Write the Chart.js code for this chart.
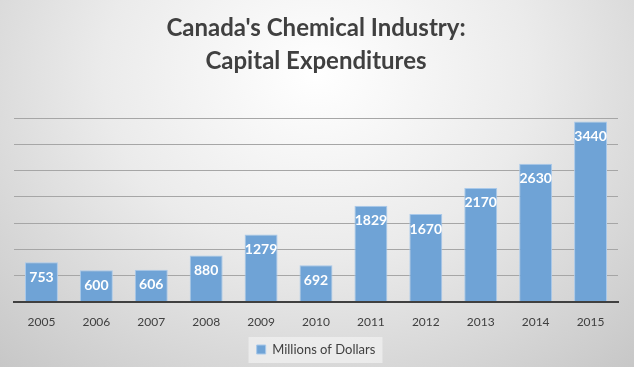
<!DOCTYPE html>
<html>
<head>
<meta charset="utf-8">
<script src="https://cdn.jsdelivr.net/npm/chart.js@4"></script>
<style>
  html, body { margin: 0; padding: 0; }
  body {
    width: 634px; height: 367px; overflow: hidden;
    background: radial-gradient(ellipse 75% 110% at 50% 20%, #ffffff 0%, #ebebeb 45%, #c6c6c6 100%);
  }
  canvas { display: block; }
</style>
</head>
<body>
<canvas id="capex" width="634" height="367"></canvas>
<script>
const years = ['2005', '2006', '2007', '2008', '2009', '2010', '2011', '2012', '2013', '2014', '2015'];
const spending = [753, 600, 606, 880, 1279, 692, 1829, 1670, 2170, 2630, 3440];
const seriesName = 'Millions of Dollars';
const titleLines = ["Canada's Chemical Industry:", 'Capital Expenditures'];

// white value labels just inside the top of each bar
const barLabels = {
    id: 'barLabels',
    afterDatasetsDraw(chart) {
        const c = chart.ctx;
        const meta = chart.getDatasetMeta(0);
        c.save();
        c.fillStyle = '#ffffff';
        c.font = 'bold 14px Lato';
        c.textAlign = 'center';
        c.textBaseline = 'middle';
        meta.data.forEach((bar, i) => {
            c.fillText(chart.data.datasets[0].data[i], bar.x, bar.y + 15);
        });
        c.restore();
    }
};

// light box behind the legend
const legendBox = {
    id: 'legendBox',
    beforeDraw(chart) {
        const lg = chart.legend;
        if (!lg) return;
        const c = chart.ctx;
        const w = 134, h = 26;
        const cx = (chart.chartArea.left + chart.chartArea.right) / 2;
        c.save();
        c.fillStyle = 'rgba(240,240,240,0.75)';
        c.fillRect(Math.round(cx - w / 2) - 0.5, lg.top + lg.height / 2 - h / 2, w, h);
        c.restore();
    }
};

const ctx = document.getElementById('capex');

new Chart(ctx, {
    type: 'bar',
    data: {
        labels: years,
        datasets: [{
                label: seriesName,
                data: spending,
                backgroundColor: '#6fa3d6',
                borderColor: '#a9c9ea',
                borderWidth: 1,
                categoryPercentage: 1,
                barPercentage: 0.6
            }]
    },
    options: {
        responsive: false,
        animation: false,
        devicePixelRatio: 1,
        layout: { padding: { left: 14, right: 16, top: 0, bottom: 1 } },
        plugins: {
            title: {
                display: true,
                text: titleLines,
                color: '#404040',
                font: { family: 'Lato', size: 24, weight: 'bold', lineHeight: 1.38 },
                padding: { top: 12, bottom: 40 }
            },
            legend: {
                position: 'bottom',
                labels: {
                    color: '#404040',
                    font: { family: 'Lato', size: 13 },
                    boxWidth: 9,
                    boxHeight: 9,
                    padding: 9
                }
            },
            tooltip: { enabled: false }
        },
        scales: {
            x: {
                grid: { display: false },
                border: { color: '#404040', width: 2 },
                ticks: { color: '#404040', font: { family: 'Lato', size: 12 }, padding: 5 }
            },
            y: {
                min: 0,
                max: 3500,
                ticks: { stepSize: 500, display: false },
                border: { display: false },
                grid: { color: '#a6a6a6', drawTicks: false }
            }
        }
    },
    plugins: [legendBox, barLabels]
});
</script>
</body>
</html>
